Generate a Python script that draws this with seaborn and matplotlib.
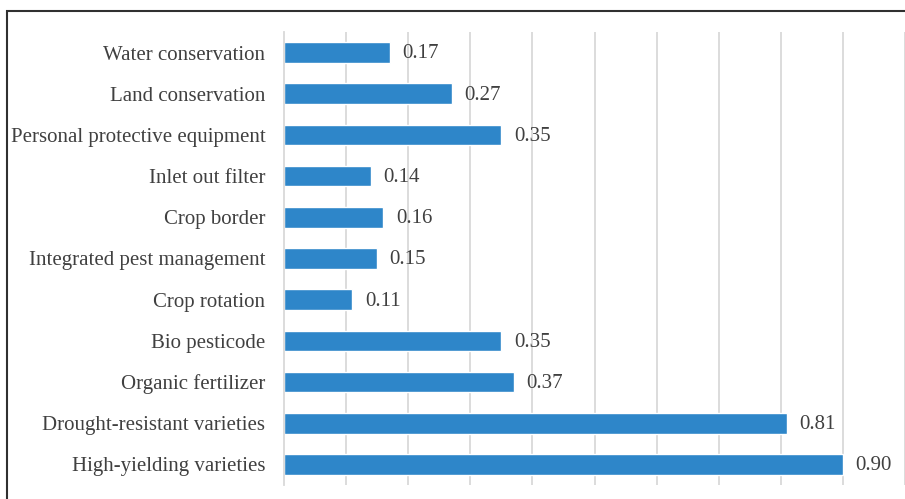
import matplotlib
matplotlib.use("Agg")
import matplotlib.pyplot as plt
import seaborn as sns
import pandas as pd
from matplotlib.patches import Rectangle

categories = [
    "Water conservation",
    "Land conservation",
    "Personal protective equipment",
    "Inlet out filter",
    "Crop border",
    "Integrated pest management",
    "Crop rotation",
    "Bio pesticode",
    "Organic fertilizer",
    "Drought-resistant varieties",
    "High-yielding varieties",
]
values = [0.17, 0.27, 0.35, 0.14, 0.16, 0.15, 0.11, 0.35, 0.37, 0.81, 0.90]
value_labels = ["0.17", "0.27", "0.35", "0.14", "0.16", "0.15", "0.11", "0.35", "0.37", "0.81", "0.90"]

df = pd.DataFrame({"category": categories, "value": values})

sns.set_theme(style="white")
plt.rcParams['font.family'] = ['Liberation Serif', 'DejaVu Serif']

W, H = 905, 499
fig = plt.figure(figsize=(W / 100, H / 100), dpi=100)
ax = fig.add_axes([284 / W, 1 - 485 / H, (W - 284) / W, (485 - 32) / H])

sns.barplot(data=df, y="category", x="value", orient="h", color="#2E86C9",
            saturation=1, width=0.5, ax=ax)

ax.set_xlim(0, (W - 284) / 623.0)
ax.set_xticks([0.1 * i for i in range(1, 11)])
ax.xaxis.grid(True, color="#D9D9D9", linewidth=1.3)
ax.set_axisbelow(True)
ax.set_xticklabels([])
ax.tick_params(axis="x", length=0)
ax.tick_params(axis="y", length=0, labelsize=15, labelcolor="#404040", pad=13.5)
ax.set_xlabel("")
ax.set_ylabel("")
for s in ["top", "right", "bottom"]:
    ax.spines[s].set_visible(False)
ax.spines["left"].set_color("#D9D9D9")
ax.spines["left"].set_linewidth(1.3)

for i, (v, lab) in enumerate(zip(values, value_labels)):
    ax.annotate(lab, (v, i), xytext=(9, -1), textcoords="offset points",
                va="center", ha="left", fontsize=15, color="#404040")

fig.patches.append(Rectangle((7 / W, -0.1), 1.2, 1 - 11 / H + 0.1,
                             transform=fig.transFigure, fill=False,
                             edgecolor="#303030", linewidth=1.5, zorder=10))

fig.savefig("out.png", dpi=100)
